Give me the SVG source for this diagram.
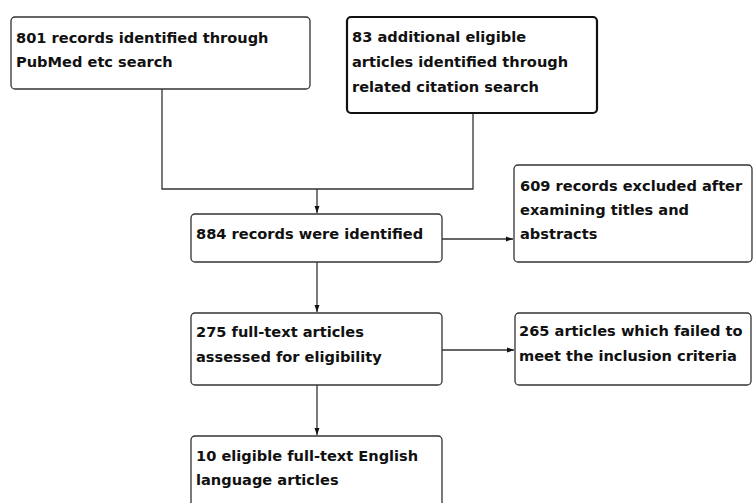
<svg xmlns="http://www.w3.org/2000/svg" width="753" height="503" viewBox="0 0 753 503">
<style>
.box{fill:#fff;stroke:#333;stroke-width:1.3}
.thick{stroke:#111;stroke-width:2.2}
.t{font-family:"DejaVu Sans",Verdana,sans-serif;font-weight:bold;font-size:14.6px;fill:#111}
.c{fill:none;stroke:#333;stroke-width:1.3}
</style>
<defs>
<marker id="ah" markerWidth="8" markerHeight="6" refX="7" refY="3" orient="auto" markerUnits="userSpaceOnUse">
<path d="M0,0.5 L7,3 L0,5.5 Z" fill="#111"/>
</marker>
</defs>
<g id="connectors">
<path class="c" d="M162,89 V189 H473 V113"/>
<path class="c" d="M317,189 V213" marker-end="url(#ah)"/>
<path class="c" d="M442,239 H513" marker-end="url(#ah)"/>
<path class="c" d="M317,262 V312" marker-end="url(#ah)"/>
<path class="c" d="M442,350 H514" marker-end="url(#ah)"/>
<path class="c" d="M317,385 V435" marker-end="url(#ah)"/>
</g>
<g id="n1">
<rect class="box" x="11" y="17" width="299" height="72" rx="4"/>
<text class="t" x="16" y="43">801 records identified through</text>
<text class="t" x="16" y="67">PubMed etc search</text>
</g>
<g id="n2">
<rect class="box thick" x="347" y="17" width="250" height="96" rx="4"/>
<text class="t" x="352" y="42">83 additional eligible</text>
<text class="t" x="352" y="67">articles identified through</text>
<text class="t" x="352" y="92">related citation search</text>
</g>
<g id="n3">
<rect class="box" x="191" y="214" width="251" height="48" rx="4"/>
<text class="t" x="196" y="239">884 records were identified</text>
</g>
<g id="n4">
<rect class="box" x="514" y="165" width="238" height="97" rx="4"/>
<text class="t" x="520" y="191">609 records excluded after</text>
<text class="t" x="520" y="215">examining titles and</text>
<text class="t" x="520" y="239">abstracts</text>
</g>
<g id="n5">
<rect class="box" x="191" y="313" width="251" height="72" rx="4"/>
<text class="t" x="196" y="337">275 full-text articles</text>
<text class="t" x="196" y="362">assessed for eligibility</text>
</g>
<g id="n6">
<rect class="box" x="515" y="313" width="236" height="72" rx="4"/>
<text class="t" x="519" y="336">265 articles which failed to</text>
<text class="t" x="519" y="361">meet the inclusion criteria</text>
</g>
<g id="n7">
<rect class="box" x="191" y="436" width="251" height="80" rx="4"/>
<text class="t" x="196" y="461">10 eligible full-text English</text>
<text class="t" x="196" y="485">language articles</text>
</g>
</svg>
